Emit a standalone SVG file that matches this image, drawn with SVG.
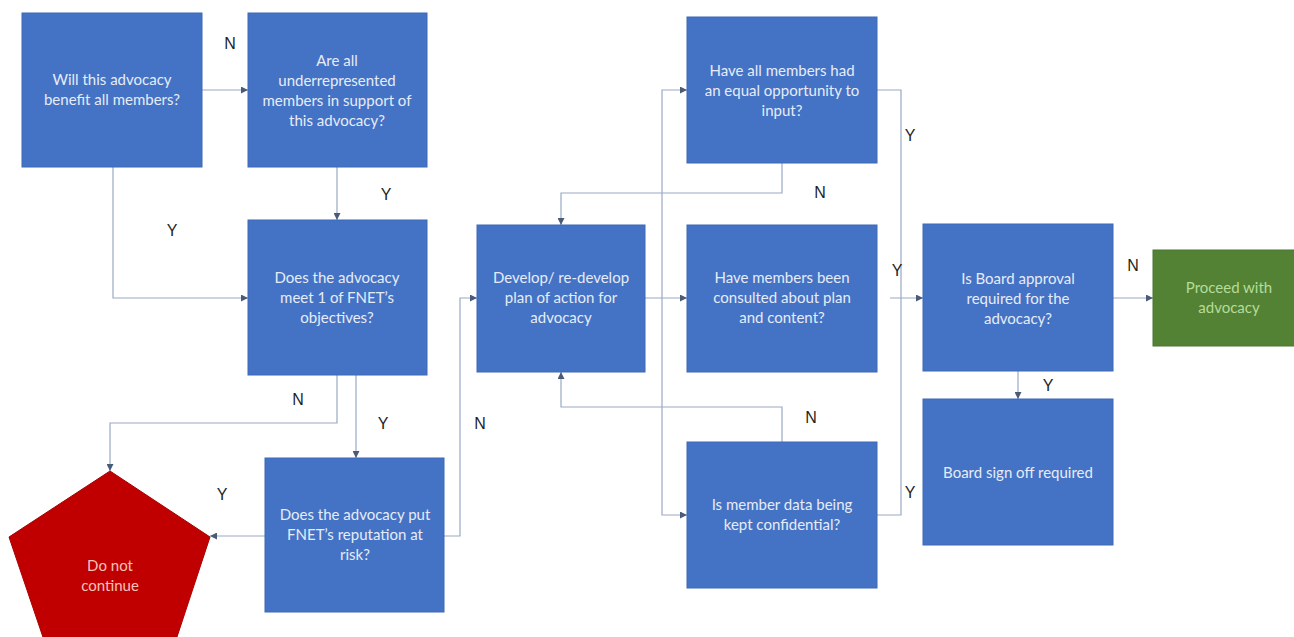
<svg xmlns="http://www.w3.org/2000/svg" width="1294" height="637" viewBox="0 0 1294 637">
<style>
.box{fill:#4472C4;stroke:#3D68B5;stroke-width:1}
.t{font-family:Lato,"Open Sans","Liberation Sans",sans-serif;font-size:15px;fill:#E6ECF7;text-anchor:middle}
.lbl{font-family:"Liberation Sans",Arial,sans-serif;font-size:16px;fill:#1F1F1F;text-anchor:middle}
.c{fill:none;stroke:#9AA9C4;stroke-width:1.2}
</style>
<defs>
<marker id="ah" viewBox="0 0 10 10" refX="10" refY="5" markerWidth="7" markerHeight="7" orient="auto" markerUnits="userSpaceOnUse">
<path d="M0,0 L10,5 L0,10 z" fill="#4A5B78"/>
</marker>
</defs>
<rect width="1294" height="637" fill="#FFFFFF"/>

<g id="connectors">
<path class="c" d="M202,90 H248" marker-end="url(#ah)"/>
<path class="c" d="M337,167 V220" marker-end="url(#ah)"/>
<path class="c" d="M113,167 V298 H248" marker-end="url(#ah)"/>
<path class="c" d="M337,375 V423 H110 V471" marker-end="url(#ah)"/>
<path class="c" d="M356,375 V458" marker-end="url(#ah)"/>
<path class="c" d="M265,536 H210" marker-end="url(#ah)"/>
<path class="c" d="M444,536 H460 V298 H477" marker-end="url(#ah)"/>
<path class="c" d="M645,298 H687" marker-end="url(#ah)"/>
<path class="c" d="M662,298 V90 H687" marker-end="url(#ah)"/>
<path class="c" d="M662,298 V515 H687" marker-end="url(#ah)"/>
<path class="c" d="M782,163 V193 H561 V225" marker-end="url(#ah)"/>
<path class="c" d="M782,442 V407 H561 V372" marker-end="url(#ah)"/>
<path class="c" d="M877,90 H901 V515 H877"/>
<path class="c" d="M890,298 H923" marker-end="url(#ah)"/>
<path class="c" d="M1113,298 H1153" marker-end="url(#ah)"/>
<path class="c" d="M1018,371 V399" marker-end="url(#ah)"/>
<text class="lbl" x="230" y="49">N</text>
<text class="lbl" x="386" y="200">Y</text>
<text class="lbl" x="172" y="236">Y</text>
<text class="lbl" x="298" y="405">N</text>
<text class="lbl" x="383" y="429">Y</text>
<text class="lbl" x="222" y="500">Y</text>
<text class="lbl" x="480" y="429">N</text>
<text class="lbl" x="820" y="198">N</text>
<text class="lbl" x="811" y="423">N</text>
<text class="lbl" x="910" y="141">Y</text>
<text class="lbl" x="897" y="276">Y</text>
<text class="lbl" x="910" y="498">Y</text>
<text class="lbl" x="1133" y="271">N</text>
<text class="lbl" x="1048" y="391">Y</text>
</g>

<g id="n1">
<rect class="box" x="22" y="13" width="180" height="154"/>
<text class="t" x="112" y="85">Will this advocacy</text>
<text class="t" x="112" y="105">benefit all members?</text>
</g>
<g id="n2">
<rect class="box" x="248" y="13" width="179" height="154"/>
<text class="t" x="337" y="66">Are all</text>
<text class="t" x="337" y="86">underrepresented</text>
<text class="t" x="337" y="106">members in support of</text>
<text class="t" x="337" y="126">this advocacy?</text>
</g>
<g id="n3">
<rect class="box" x="248" y="220" width="179" height="155"/>
<text class="t" x="337" y="283">Does the advocacy</text>
<text class="t" x="337" y="303">meet 1 of FNET’s</text>
<text class="t" x="337" y="323">objectives?</text>
</g>
<g id="n4">
<rect class="box" x="265" y="458" width="179" height="154"/>
<text class="t" x="355" y="520">Does the advocacy put</text>
<text class="t" x="355" y="540">FNET’s reputation at</text>
<text class="t" x="355" y="560">risk?</text>
</g>
<g id="n5">
<polygon points="110,471 210,537 172,652 48,652 9,537" fill="#C00000" stroke="#A80000" stroke-width="1"/>
<text class="t" x="110" y="571" style="fill:#F6C3B8">Do not</text>
<text class="t" x="110" y="591" style="fill:#F6C3B8">continue</text>
</g>
<g id="n6">
<rect class="box" x="477" y="225" width="168" height="147"/>
<text class="t" x="561" y="283">Develop/ re-develop</text>
<text class="t" x="561" y="303">plan of action for</text>
<text class="t" x="561" y="323">advocacy</text>
</g>
<g id="n7">
<rect class="box" x="687" y="17" width="190" height="146"/>
<text class="t" x="782" y="76">Have all members had</text>
<text class="t" x="782" y="96">an equal opportunity to</text>
<text class="t" x="782" y="116">input?</text>
</g>
<g id="n8">
<rect class="box" x="687" y="225" width="190" height="147"/>
<text class="t" x="782" y="283">Have members been</text>
<text class="t" x="782" y="303">consulted about plan</text>
<text class="t" x="782" y="323">and content?</text>
</g>
<g id="n9">
<rect class="box" x="687" y="442" width="190" height="146"/>
<text class="t" x="782" y="510">Is member data being</text>
<text class="t" x="782" y="530">kept confidential?</text>
</g>
<g id="n10">
<rect class="box" x="923" y="224" width="190" height="147"/>
<text class="t" x="1018" y="284">Is Board approval</text>
<text class="t" x="1018" y="304">required for the</text>
<text class="t" x="1018" y="324">advocacy?</text>
</g>
<g id="n11">
<rect x="1153" y="250" width="145" height="96" fill="#548235" stroke="#4A7430" stroke-width="1"/>
<text class="t" x="1229" y="293" style="fill:#B5DC98">Proceed with</text>
<text class="t" x="1229" y="313" style="fill:#B5DC98">advocacy</text>
</g>
<g id="n12">
<rect class="box" x="923" y="399" width="190" height="146"/>
<text class="t" x="1018" y="478">Board sign off required</text>
</g>
</svg>
